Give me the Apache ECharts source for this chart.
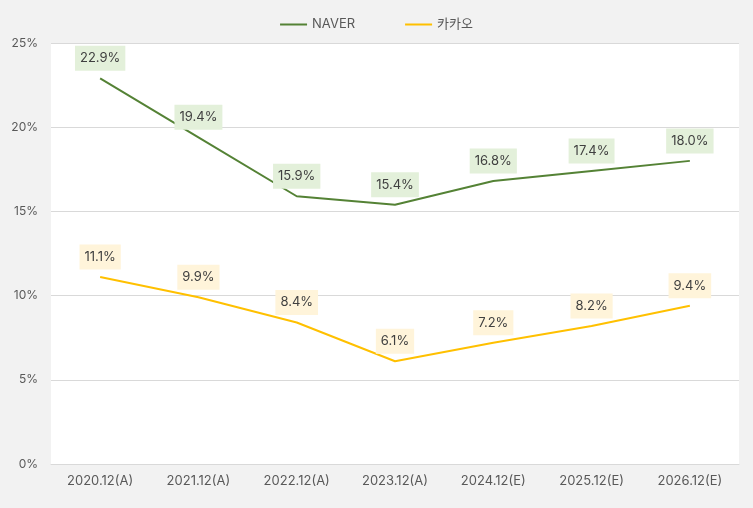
<!DOCTYPE html>
<html><head><meta charset="utf-8">
<script src="https://cdn.jsdelivr.net/npm/echarts@6/dist/echarts.min.js"></script>
<style>html,body{margin:0;padding:0;background:#f2f2f2}#c{width:753px;height:508px}</style>
</head><body><div id="c"></div>
<script>
const categories = ['2020.12(A)','2021.12(A)','2022.12(A)','2023.12(A)','2024.12(E)','2025.12(E)','2026.12(E)'];
const naver = [22.9, 19.4, 15.9, 15.4, 16.8, 17.4, 18.0];
const kakao = [11.1, 9.9, 8.4, 6.1, 7.2, 8.2, 9.4];
const seriesNames = ['NAVER', '카카오'];
const yTicks = [0, 5, 10, 15, 20, 25];

const font = 'Inter, "Noto Sans CJK KR", sans-serif';
const chart = echarts.init(document.getElementById('c'), null, {renderer: 'canvas'});
function lbl(bg) {
  return {
    show: true, position: 'top', distance: 7,
    formatter: p => p.value.toFixed(1) + '%',
    backgroundColor: bg, padding: [6, 5, 6, 5],
    color: '#404040', fontSize: 13, fontFamily: font
  };
}
chart.setOption({
  backgroundColor: '#f2f2f2',
  textStyle: {fontFamily: font},
  legend: {
    top: 13, left: 'center', itemGap: 50, itemWidth: 27, itemHeight: 2,
    icon: 'rect',
    textStyle: {color: '#595959', fontSize: 13, fontFamily: font},
    data: [
      {name: seriesNames[0], itemStyle: {color: '#548235', opacity: 1}},
      {name: seriesNames[1], itemStyle: {color: '#ffc000', opacity: 1}}
    ]
  },
  grid: {left: 51, right: 14, top: 43, bottom: 44, show: true, backgroundColor: '#ffffff', borderWidth: 0},
  xAxis: {
    type: 'category', data: categories, boundaryGap: true,
    axisLine: {lineStyle: {color: '#d9d9d9'}}, axisTick: {show: false},
    axisLabel: {color: '#595959', fontSize: 13, margin: 11, fontFamily: font}
  },
  yAxis: {
    type: 'value', min: yTicks[0], max: yTicks[yTicks.length - 1], interval: 5,
    axisLabel: {color: '#595959', fontSize: 12, margin: 13, formatter: v => v + '%', fontFamily: font},
    splitLine: {lineStyle: {color: '#d9d9d9'}},
    axisLine: {show: false}, axisTick: {show: false}
  },
  series: [
    {name: seriesNames[0], type: 'line', data: naver, symbol: 'circle', symbolSize: 1, showSymbol: true,
     itemStyle: {color: 'rgba(0,0,0,0)', borderWidth: 0}, z: 3,
     lineStyle: {width: 2, color: '#548235'}, label: lbl('#e3f0da')},
    {name: seriesNames[1], type: 'line', data: kakao, symbol: 'circle', symbolSize: 1, showSymbol: true,
     itemStyle: {color: 'rgba(0,0,0,0)', borderWidth: 0}, z: 2,
     lineStyle: {width: 2, color: '#ffc000'}, label: lbl('#fff4da')}
  ]
});
</script></body></html>
